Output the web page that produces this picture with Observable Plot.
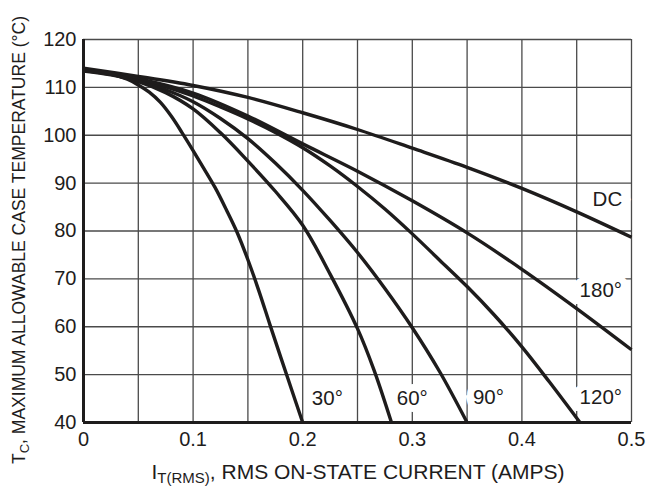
<!DOCTYPE html>
<html><head><meta charset="utf-8">
<script src="https://cdn.jsdelivr.net/npm/d3@7"></script>
<script src="https://cdn.jsdelivr.net/npm/@observablehq/plot@0.6"></script>
<style>
html,body{margin:0;padding:0;background:#fff;}
#chart svg{display:block;}
</style></head><body><div id="chart"></div>
<script>
// ---- data ----
const xTicks = [0, 0.1, 0.2, 0.3, 0.4, 0.5];
const xTickLabels = ["0", "0.1", "0.2", "0.3", "0.4", "0.5"];
const yTicks = [40, 50, 60, 70, 80, 90, 100, 110, 120];
const xGrid = [0.05, 0.1, 0.15, 0.2, 0.25, 0.3, 0.35, 0.4, 0.45, 0.5];
const yGrid = [50, 60, 70, 80, 90, 100, 110, 120];

const seriesNames = ["DC", "180°", "120°", "90°", "60°", "30°"];
const dcX = [0, 0.05, 0.1, 0.15, 0.2, 0.25, 0.3, 0.35, 0.4, 0.45, 0.5];
const dcY = [114, 112.3, 110.4, 107.9, 104.7, 101.2, 97.3, 93.3, 88.9, 84.0, 78.7];
const a180X = [0, 0.05, 0.1, 0.15, 0.2, 0.25, 0.3, 0.35, 0.4, 0.45, 0.5];
const a180Y = [113.8, 111.8, 108.8, 104.0, 98.2, 92.5, 86.3, 79.6, 72.0, 63.8, 55.2];
const a120X = [0, 0.025, 0.05, 0.075, 0.1, 0.125, 0.15, 0.175, 0.2, 0.225, 0.25, 0.275, 0.3, 0.325, 0.35, 0.375, 0.4, 0.425, 0.453];
const a120Y = [113.6, 112.9, 111.7, 110.1, 108.2, 105.9, 103.4, 100.6, 97.4, 93.6, 89.3, 84.6, 79.4, 73.9, 68.4, 62.4, 55.8, 48.5, 40];
const a90X = [0, 0.025, 0.05, 0.075, 0.1, 0.125, 0.15, 0.175, 0.2, 0.225, 0.25, 0.275, 0.3, 0.325, 0.35];
const a90Y = [113.5, 112.7, 111.3, 109.5, 107.0, 103.5, 99.3, 94.2, 88.5, 82.2, 75.5, 68.0, 59.8, 50.6, 40];
const a60X = [0, 0.025, 0.05, 0.075, 0.1, 0.125, 0.15, 0.175, 0.2, 0.225, 0.25, 0.265, 0.281];
const a60Y = [113.4, 112.6, 111.2, 108.9, 105.5, 100.5, 94.6, 88.3, 81.2, 71.0, 59.6, 51.0, 40];
const a30X = [0, 0.02, 0.04, 0.05, 0.06, 0.07, 0.08, 0.09, 0.1, 0.11, 0.12, 0.13, 0.14, 0.15, 0.16, 0.17, 0.18, 0.19, 0.2];
const a30Y = [113.4, 113.1, 111.7, 110.5, 109, 106.9, 104, 100.5, 96.8, 93, 89.1, 84.6, 79.8, 74, 67.5, 60.5, 53.6, 46.8, 40];

// curve label anchors (data units)
const labelText = ["DC", "180°", "120°", "90°", "60°", "30°"];
const labelX = [0.478, 0.472, 0.472, 0.3695, 0.300, 0.2225];
const labelY = [86.6, 67.5, 45.3, 45.3, 45.1, 45.1];

// ---- build tables ----
const seriesXY = [[dcX, dcY], [a180X, a180Y], [a120X, a120Y], [a90X, a90Y], [a60X, a60Y], [a30X, a30Y]];
const points = [];
seriesXY.forEach(([xs, ys], k) => xs.forEach((x, i) => points.push({series: seriesNames[k], x, y: ys[i]})));
const labels = labelText.map((t, i) => ({text: t, x: labelX[i], y: labelY[i]}));

const font = "'Liberation Sans', Arial, Helvetica, sans-serif";
const ink = "#1e1c1c";

const chart = Plot.plot({
  width: 647,
  height: 489,
  marginLeft: 83,
  marginRight: 16,
  marginTop: 39,
  marginBottom: 67,
  x: {domain: [0, 0.5]},
  y: {domain: [40, 120]},
  style: {fontFamily: font, background: "#fff", color: ink, fontSize: "20px"},
  marks: [
    Plot.ruleX(xGrid, {stroke: "#4a4a4a", strokeWidth: 1.3}),
    Plot.ruleY(yGrid, {stroke: "#4a4a4a", strokeWidth: 1.3}),
    Plot.text(labels, {x: "x", y: "y", text: "text", fontSize: 20.5, fill: ink, stroke: "#fff", strokeWidth: 14, strokeLinejoin: "miter"}),
    Plot.line(points, {x: "x", y: "y", z: "series", stroke: ink, strokeWidth: 3.4, curve: "catmull-rom", strokeLinecap: "butt"}),
    Plot.ruleX([0], {stroke: ink, strokeWidth: 3}),
    Plot.ruleY([40], {stroke: ink, strokeWidth: 3}),
    Plot.axisX(xTicks, {tickSize: 0, tickPadding: 9, fontSize: 20, label: null, fill: ink,
      tickFormat: d => xTickLabels[xTicks.indexOf(d)]}),
    Plot.axisY(yTicks, {tickSize: 0, tickPadding: 7, fontSize: 20, label: null, fill: ink})
  ]
});
document.getElementById("chart").appendChild(chart);

// axis titles with subscripts
const svg = d3.select(chart);
const yt = svg.append("text")
  .attr("transform", "translate(25,240) rotate(-90)")
  .attr("text-anchor", "middle")
  .attr("font-family", font)
  .attr("font-size", 17.5)
  .attr("textLength", 448)
  .attr("lengthAdjust", "spacingAndGlyphs")
  .attr("fill", ink);
yt.append("tspan").text("T");
yt.append("tspan").attr("font-size", 13).attr("dy", 4).text("C");
yt.append("tspan").attr("dy", -4).text(", MAXIMUM ALLOWABLE CASE TEMPERATURE (°C)");

const xt = svg.append("text")
  .attr("x", 358)
  .attr("y", 479)
  .attr("text-anchor", "middle")
  .attr("font-family", font)
  .attr("font-size", 21)
  .attr("fill", ink);
xt.append("tspan").text("I");
xt.append("tspan").attr("font-size", 15).attr("dy", 4).text("T(RMS)");
xt.append("tspan").attr("dy", -4).text(", RMS ON-STATE CURRENT (AMPS)");
</script>
</body></html>
